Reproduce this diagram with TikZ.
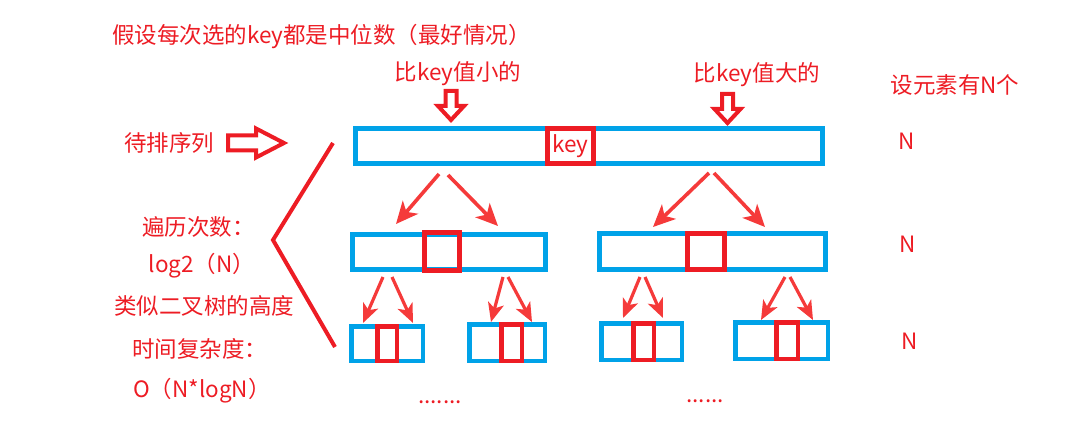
\documentclass[tikz,border=0pt]{standalone}
\usepackage{fontspec}
\setmainfont{Noto Sans CJK SC}
\usetikzlibrary{calc,arrows.meta,positioning}
\definecolor{qsblue}{RGB}{0,162,232}
\definecolor{qsred}{RGB}{237,28,36}
\definecolor{qsarrow}{RGB}{245,58,58}

\begin{document}
\begin{tikzpicture}[x=1pt,y=-1pt,
  every node/.style={font=\fontsize{22.5}{26}\selectfont,text=qsred,inner sep=0pt},
  seg/.style={draw=qsblue,line width=5pt},
  mid/.style={draw=qsred,line width=5pt},
  thinseg/.style={line width=4.5pt},
  hollow/.style={draw=qsred,line width=4pt},
  fork/.style={qsarrow,line width=3.6pt,-{Stealth[length=22pt,width=20pt,inset=6pt]}},
  smallfork/.style={qsarrow,line width=3.2pt,-{Stealth[length=19pt,width=16pt,inset=5pt]}},
  downarr/.pic={\draw[hollow] (-5.5,0)--(5.5,0)--(5.5,15)--(13,15)--(0,29)--(-13,15)--(-5.5,15)--cycle;},
  rightarr/.pic={\draw[hollow] (0,-7.5)--(28,-7.5)--(28,-14.5)--(56,0)--(28,14.5)--(28,7.5)--(0,7.5)--cycle;}]

\useasboundingbox (0,0) rectangle (1088,425);

\node[anchor=west] (title) at (112,37) {假设每次选的key都是中位数（最好情况）};
\node (less) at (458,74) {比key值小的};
\node (more) at (757,75) {比key值大的};
\node (count) at (955,85) {设元素有N个};
\pic (lessarr) at (451,91) {downarr};
\pic (morearr) at (727.5,94) {downarr};

% top row
\node[seg,minimum width=467pt,minimum height=35pt] (seq) at (589,146) {};
\node[mid,minimum width=46pt,minimum height=35pt] (key) at (570.5,146) {key};
\node[anchor=west] (input) at (124,143) {待排序列};
\pic (inarr) at (228,143) {rightarr};

% second row
\node[seg,minimum width=193pt,minimum height=35pt] (l) at (449,252) {};
\node[mid,minimum width=35pt,minimum height=38pt] (lk) at (442,251.5) {};
\node[seg,minimum width=226pt,minimum height=36pt] (r) at (712.5,251.5) {};
\node[mid,minimum width=37pt,minimum height=36pt] (rk) at (706,251.5) {};

% third row
\node[seg,thinseg,minimum width=71.5pt,minimum height=34.5pt] (b1) at (387,343.5) {};
\node[mid,thinseg,minimum width=19.5pt,minimum height=34.5pt] (b1k) at (387,343.5) {};
\node[seg,thinseg,minimum width=75.5pt,minimum height=36.5pt] (b2) at (507,342.5) {};
\node[mid,thinseg,minimum width=20.5pt,minimum height=36.5pt] (b2k) at (511.5,342.5) {};
\node[seg,thinseg,minimum width=80.5pt,minimum height=36.5pt] (b3) at (641.5,341.5) {};
\node[mid,thinseg,minimum width=20.5pt,minimum height=36.5pt] (b3k) at (643.5,341.5) {};
\node[seg,thinseg,minimum width=92.5pt,minimum height=36.5pt] (b4) at (781.5,340.5) {};
\node[mid,thinseg,minimum width=21.5pt,minimum height=36.5pt] (b4k) at (787,340.5) {};

\draw[fork] ($(seq.south)+(-150,8)$) -- ($(l.north)+(-53,-8)$);
\draw[fork] ($(seq.south)+(-141,9)$) -- ($(l.north)+(49,-6)$);
\draw[fork] ($(seq.south)+(120,7)$) -- ($(r.north)+(-59.5,-4)$);
\draw[fork] ($(seq.south)+(125,7)$) -- ($(r.north)+(52.5,-4)$);

\draw[smallfork] ($(l.south)+(-66,5)$) -- ($(b1.north)+(-24,-1)$);
\draw[smallfork] ($(l.south)+(-57,5)$) -- ($(b1.north)+(26,-1)$);
\draw[smallfork] ($(l.south)+(54,5)$) -- ($(b2.north)+(-16,0)$);
\draw[smallfork] ($(l.south)+(59,5)$) -- ($(b2.north)+(25,0)$);
\draw[smallfork] ($(r.south)+(-72.5,5)$) -- ($(b3.north)+(-18.5,-3)$);
\draw[smallfork] ($(r.south)+(-67.5,5)$) -- ($(b3.north)+(21.5,-3)$);
\draw[smallfork] ($(r.south)+(72.5,5)$) -- ($(b4.north)+(-20.5,0)$);
\draw[smallfork] ($(r.south)+(77.5,5)$) -- ($(b4.north)+(31.5,0)$);

% bracket and notes
\draw[qsred,line width=4pt] (333,143) -- (273,240) -- (335,347);
\node[anchor=west] (passes) at (142,227) {遍历次数：};
\node[anchor=west] (logn) at (148.5,266) {log2（N）};
\node[anchor=west] (height) at (114,306) {类似二叉树的高度};
\node[anchor=west] (cost) at (132,349) {时间复杂度：};
\node[anchor=west] (bigo) at (133,391) {O（N*logN）};

\node (n1) at (907,141) {N};
\node (n2) at (908,244) {N};
\node (n3) at (910,341) {N};

\node (dotsl) at (440,402) {.......};
\node (dotsr) at (705,401) {......};
\end{tikzpicture}
\end{document}
